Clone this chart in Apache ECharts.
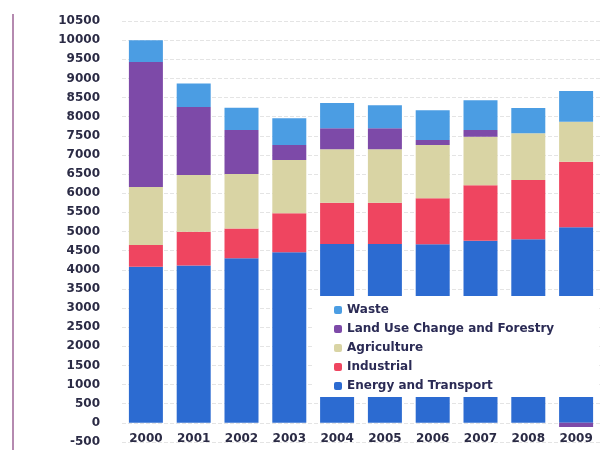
<!DOCTYPE html>
<html>
<head>
<meta charset="utf-8">
<script src="https://cdn.jsdelivr.net/npm/echarts@6/dist/echarts.min.js"></script>
<style>
html,body{margin:0;padding:0;background:#fff;}
#chart{width:600px;height:450px;}
</style>
</head>
<body>
<div id="chart"></div>
<script>
var years = ['2000','2001','2002','2003','2004','2005','2006','2007','2008','2009'];
var energyTransport = [4080, 4110, 4300, 4455, 4675, 4675, 4665, 4760, 4795, 5110];
var industrial      = [570, 885, 780, 1025, 1075, 1075, 1205, 1450, 1550, 1710];
var agriculture     = [1512, 1480, 1420, 1390, 1400, 1400, 1390, 1265, 1225, 1050];
var landUse         = [3264, 1775, 1150, 390, 550, 550, 130, 175, 0, -110];
var waste           = [574, 620, 582, 700, 660, 600, 780, 780, 660, 800];

var chart = echarts.init(document.getElementById('chart'));
var font = 'DejaVu Sans';
function bar(name, data, color) {
  return {
    name: name, type: 'bar', stack: 'total', data: data, barWidth: 34,
    itemStyle: { color: color }
  };
}
chart.setOption({
  animation: false,
  backgroundColor: '#fff',
  textStyle: { fontFamily: font },
  grid: { left: 122, right: 0, top: 21, bottom: 8, containLabel: false, outerBoundsMode: 'none' },
  legend: {
    orient: 'vertical', left: 312, top: 296,
    backgroundColor: '#fff',
    padding: [8, 45, 5, 22],
    itemWidth: 8, itemHeight: 8, itemGap: 7,
    textStyle: { fontFamily: font, fontSize: 12, fontWeight: 'bold', color: '#2b2b55' },
    data: ['Waste', 'Land Use Change and Forestry', 'Agriculture', 'Industrial', 'Energy and Transport']
  },
  xAxis: {
    type: 'category', data: years,
    axisLine: { show: false },
    axisTick: { show: false },
    axisLabel: { fontFamily: font, fontSize: 12, fontWeight: 'bold', color: '#2b2b45', margin: -9 }
  },
  yAxis: {
    type: 'value', min: -500, max: 10500, interval: 500,
    axisLine: { show: false },
    axisTick: { show: false },
    axisLabel: { fontFamily: font, fontSize: 12, fontWeight: 'bold', color: '#2b2b45', margin: 22,
      formatter: function (v) { return String(v); } },
    splitLine: { show: true, lineStyle: { color: '#e4e4e4', type: 'dashed' } }
  },
  graphic: [{ type: 'rect', left: 12, top: 14, shape: { width: 2, height: 436 }, style: { fill: '#b58ab0' } }],
  series: [
    bar('Energy and Transport', energyTransport, '#2c6bd1'),
    bar('Industrial', industrial, '#ef4560'),
    bar('Agriculture', agriculture, '#d9d4a4'),
    bar('Land Use Change and Forestry', landUse, '#7d4aa8'),
    bar('Waste', waste, '#4b9de3')
  ]
});
</script>
</body>
</html>
